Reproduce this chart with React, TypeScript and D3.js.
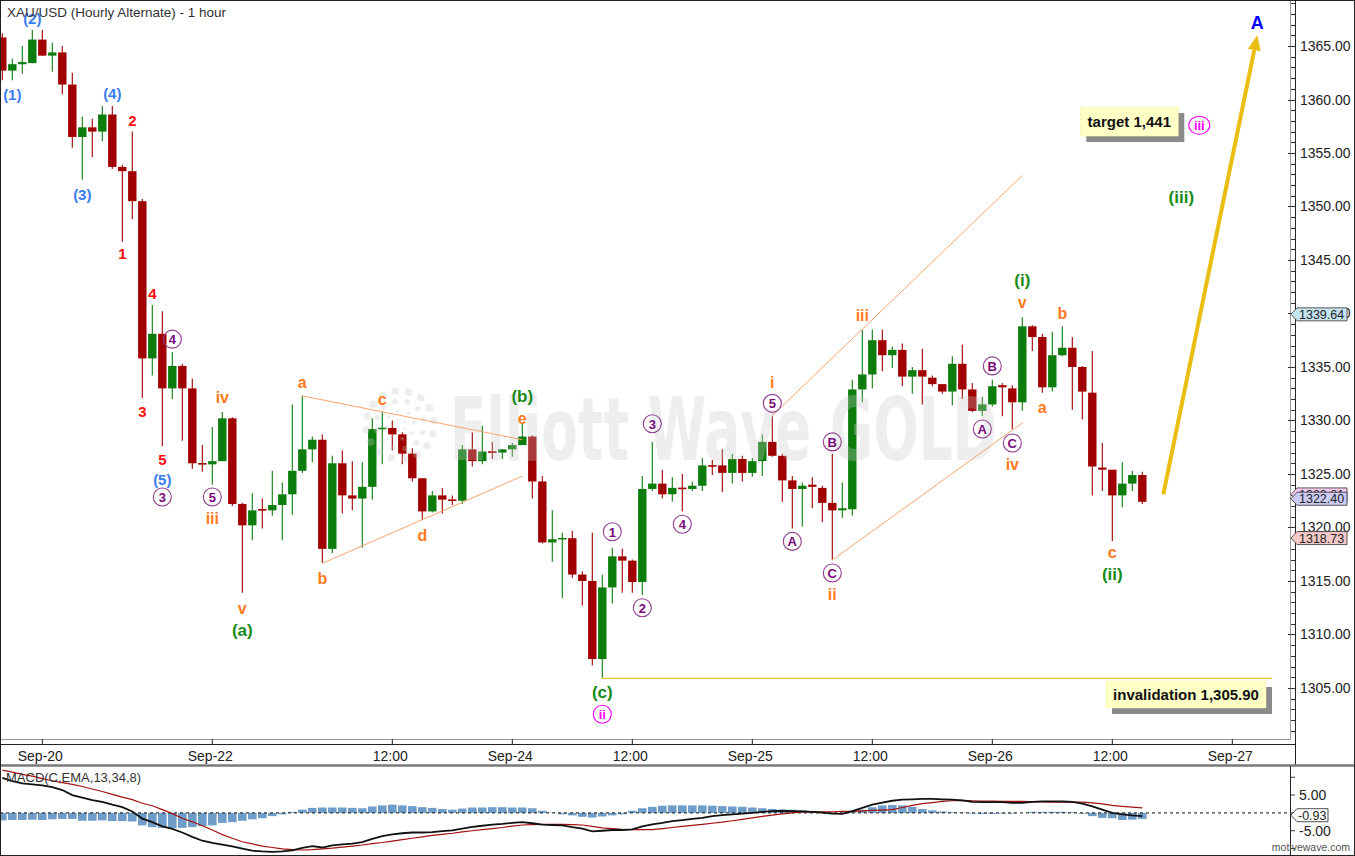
import React from 'react';
import * as d3 from 'd3';

const W = 1355;
const H = 856;

const chartTitle = 'XAU/USD (Hourly Alternate) - 1 hour';
const macdTitle = 'MACD(C,EMA,13,34,8)';

const openP = [
  1365.8, 1362.7, 1363.3, 1363.4, 1365.6, 1364.1, 1364.4, 1361.4, 1356.5, 1357.4,
  1357.0, 1358.6, 1353.7, 1353.3, 1350.5, 1335.8, 1338.1, 1333.0, 1335.1, 1333.0,
  1326.0, 1325.9, 1326.2, 1330.2, 1322.2, 1320.2, 1321.7, 1321.6, 1322.1, 1323.1,
  1325.3, 1327.3, 1328.2, 1318.0, 1326.0, 1323.0, 1322.7, 1323.8, 1329.2, 1329.3,
  1328.7, 1326.9, 1324.6, 1321.5, 1323.0, 1322.6, 1322.5, 1327.3, 1326.2, 1327.1,
  1327.0, 1327.3, 1327.7, 1328.5, 1324.3, 1318.6, 1318.9, 1319.0, 1315.6, 1315.0,
  1307.7, 1314.4, 1317.3, 1316.9, 1314.9, 1323.6, 1324.1, 1323.1, 1323.7, 1323.6,
  1323.9, 1325.8, 1325.8, 1325.1, 1326.4, 1325.1, 1326.2, 1328.0, 1326.7, 1324.4,
  1323.6, 1324.0, 1323.7, 1322.3, 1321.6, 1321.7, 1332.9, 1334.3, 1337.5, 1336.1,
  1336.6, 1334.1, 1334.7, 1334.0, 1333.4, 1332.7, 1335.3, 1332.9, 1330.9, 1331.5,
  1333.3, 1333.0, 1331.7, 1338.8, 1337.8, 1333.1, 1336.1, 1336.8, 1335.0, 1332.6,
  1325.6, 1325.4, 1323.0, 1324.1, 1324.9,
];
const highP = [
  1366.2, 1363.8, 1365.0, 1366.5, 1366.5, 1365.3, 1365.0, 1362.5, 1358.4, 1358.2,
  1359.4, 1359.4, 1353.9, 1357.0, 1350.7, 1340.8, 1340.2, 1336.4, 1335.3, 1333.9,
  1327.7, 1329.4, 1330.8, 1330.3, 1322.3, 1323.2, 1322.7, 1325.3, 1324.2, 1331.5,
  1332.3, 1328.5, 1328.7, 1326.7, 1327.2, 1326.2, 1326.1, 1330.2, 1330.8, 1330.0,
  1328.9, 1327.4, 1324.6, 1323.4, 1323.7, 1323.0, 1327.7, 1328.9, 1329.5, 1328.0,
  1327.3, 1327.9, 1329.8, 1328.6, 1324.8, 1321.6, 1319.5, 1319.7, 1315.9, 1319.5,
  1315.6, 1318.1, 1318.0, 1317.0, 1324.8, 1328.0, 1325.4, 1324.7, 1325.0, 1324.3,
  1326.5, 1326.3, 1327.3, 1326.9, 1326.7, 1326.5, 1328.7, 1330.4, 1326.9, 1324.8,
  1324.2, 1324.7, 1323.9, 1326.9, 1324.2, 1333.8, 1338.5, 1338.5, 1338.5, 1336.9,
  1337.2, 1335.0, 1336.7, 1334.2, 1333.4, 1336.0, 1337.1, 1333.5, 1332.2, 1333.8,
  1333.5, 1333.3, 1339.64, 1338.9, 1338.1, 1338.3, 1338.8, 1337.8, 1335.1, 1336.5,
  1327.9, 1325.4, 1326.1, 1325.3, 1325.2,
];
const lowP = [
  1361.8, 1361.8, 1362.4, 1363.4, 1364.1, 1362.6, 1360.5, 1355.5, 1352.5, 1354.6,
  1356.1, 1353.5, 1346.7, 1348.8, 1332.1, 1334.2, 1327.6, 1332.0, 1328.1, 1325.5,
  1325.2, 1324.0, 1326.2, 1322.0, 1313.9, 1318.8, 1319.9, 1321.1, 1318.8, 1321.2,
  1325.1, 1326.1, 1316.7, 1317.6, 1321.3, 1321.6, 1318.1, 1322.6, 1325.9, 1327.2,
  1325.9, 1324.3, 1320.7, 1321.4, 1321.3, 1322.1, 1322.2, 1325.7, 1325.9, 1326.4,
  1326.4, 1326.6, 1327.7, 1322.7, 1318.5, 1316.8, 1313.4, 1315.3, 1312.7, 1307.1,
  1305.9, 1312.9, 1313.9, 1313.9, 1313.7, 1323.4, 1322.7, 1322.4, 1321.5, 1323.4,
  1323.4, 1324.9, 1323.3, 1324.1, 1324.3, 1324.75, 1324.8, 1326.6, 1322.4, 1319.9,
  1320.1, 1321.8, 1320.5, 1317.0, 1320.9, 1321.1, 1331.7, 1333.0, 1334.6, 1334.9,
  1333.2, 1332.5, 1331.5, 1333.2, 1332.5, 1331.4, 1332.0, 1330.8, 1330.4, 1331.3,
  1330.4, 1329.2, 1330.9, 1336.5, 1332.6, 1332.7, 1336.0, 1331.0, 1330.1, 1323.0,
  1323.4, 1318.73, 1321.9, 1323.4, 1322.2,
];
const closeP = [
  1362.7, 1363.3, 1363.5, 1365.6, 1364.1, 1364.4, 1361.4, 1356.5, 1357.4, 1357.0,
  1358.6, 1353.7, 1353.3, 1350.5, 1335.8, 1338.1, 1333.0, 1335.1, 1333.0, 1326.0,
  1325.9, 1326.2, 1330.2, 1322.2, 1320.2, 1321.6, 1321.6, 1322.1, 1323.1, 1325.3,
  1327.3, 1328.2, 1318.0, 1326.0, 1323.0, 1322.7, 1323.8, 1329.2, 1329.3, 1328.7,
  1326.9, 1324.6, 1321.5, 1323.0, 1322.6, 1322.5, 1327.3, 1326.2, 1327.1, 1327.0,
  1327.3, 1327.7, 1328.5, 1324.3, 1318.6, 1318.9, 1319.0, 1315.6, 1315.0, 1307.7,
  1314.4, 1317.3, 1316.9, 1314.9, 1323.6, 1324.1, 1323.1, 1323.7, 1323.6, 1323.9,
  1325.8, 1325.7, 1325.1, 1326.4, 1325.1, 1326.2, 1328.0, 1326.7, 1324.4, 1323.6,
  1323.9, 1323.8, 1322.3, 1321.6, 1321.8, 1332.9, 1334.3, 1337.5, 1336.1, 1336.6,
  1334.1, 1334.7, 1334.1, 1333.4, 1332.7, 1335.3, 1332.9, 1330.9, 1331.5, 1333.2,
  1333.1, 1331.7, 1338.8, 1337.8, 1333.1, 1336.1, 1336.8, 1335.0, 1332.7, 1325.7,
  1325.4, 1323.0, 1324.1, 1324.9, 1322.4,
];

const macdLine = [
  9.8, 8.9, 8.3, 8.0, 7.7, 7.2, 6.4, 5.0, 4.3, 3.6,
  3.1, 2.3, 1.6, 0.4, -1.6, -2.6, -3.8, -4.5, -5.5, -6.7,
  -7.8, -8.4, -8.9, -9.4, -10.0, -10.6, -10.8, -10.9, -10.8, -10.5,
  -9.8, -9.3, -9.7, -9.1, -8.8, -8.6, -8.2, -7.3, -6.5, -6.0,
  -5.7, -5.5, -5.5, -5.4, -5.1, -4.9, -4.4, -3.9, -3.6, -3.3,
  -3.1, -2.8, -2.6, -2.9, -3.3, -3.4, -3.5, -4.0, -4.4, -5.2,
  -5.0, -4.8, -4.8, -4.6, -3.8, -3.2, -2.8, -2.3, -2.0, -1.7,
  -1.4, -0.9, -0.6, -0.4, -0.2, 0.0, 0.3, 0.5, 0.6, 0.5,
  0.4, 0.3, 0.1, -0.2, -0.3, 0.5, 1.4, 2.3, 2.9, 3.4,
  3.7, 3.8, 3.9, 3.9, 3.8, 3.7, 3.5, 3.1, 3.0, 3.0,
  3.0, 2.8, 2.8, 3.1, 3.2, 3.2, 3.2, 3.1, 2.6, 1.8,
  0.9, 0.0, -0.4, -0.7, -0.93,
];
const signalLine = [
  12.0, 11.4, 10.8, 10.3, 9.6, 9.0, 8.5, 8.0, 7.4, 6.7,
  6.0, 5.2, 4.4, 3.7, 2.7, 2.0, 0.9, -0.2, -1.5, -2.5,
  -3.6, -4.8, -6.1, -7.1, -8.1, -8.7, -9.3, -9.7, -10.1, -10.3,
  -10.4, -10.3, -10.1, -9.9, -9.6, -9.3, -9.0, -8.6, -8.3, -7.9,
  -7.5, -7.1, -6.7, -6.3, -6.0, -5.7, -5.3, -5.0, -4.7, -4.4,
  -4.1, -3.7, -3.4, -3.3, -3.2, -3.2, -3.2, -3.3, -3.4, -3.8,
  -4.2, -4.4, -4.6, -4.7, -4.7, -4.7, -4.4, -4.1, -3.8, -3.5,
  -3.2, -2.9, -2.6, -2.2, -1.8, -1.4, -1.0, -0.6, -0.3, 0.0,
  0.3, 0.3, 0.3, 0.3, 0.4, 0.4, 0.55, 0.7, 0.8, 0.9,
  1.5, 2.1, 2.6, 2.9, 3.2, 3.4, 3.5, 3.4, 3.3, 3.3,
  3.2, 3.2, 3.2, 3.1, 3.1, 3.0, 3.0, 3.0, 3.0, 2.8,
  2.5, 2.1, 1.8, 1.6, 1.4,
];
const histogram = [
  -2.1, -2.0, -2.0, -1.9, -2.0, -1.8, -1.7, -1.7, -2.2, -2.2,
  -2.1, -2.3, -2.3, -2.4, -3.5, -4.0, -4.2, -4.3, -4.2, -4.0,
  -3.7, -3.5, -2.8, -2.6, -2.2, -1.8, -1.5, -0.9, -0.4, 0.3,
  0.9, 1.4, 1.5, 1.5, 1.5, 1.4, 1.3, 1.8, 2.1, 2.3,
  2.1, 1.9, 1.6, 1.4, 1.1, 0.9, 1.2, 1.5, 1.5, 1.6,
  1.6, 1.5, 1.5, 1.3, 0.6, 0.1, -0.4, -0.7, -1.1, -1.3,
  -1.0, -0.7, -0.4, 0.6, 1.3, 1.7, 2.0, 2.1, 2.1, 2.1,
  2.1, 2.0, 1.9, 1.8, 1.7, 1.5, 1.3, 1.1, 0.9, 0.9,
  0.7, 0.5, 0.3, -0.1, -0.3, 0.4, 0.9, 1.6, 2.1, 2.2,
  2.1, 1.7, 1.1, 0.7, 0.4, 0.2, 0.1, -0.2, -0.3, -0.3,
  -0.2, -0.2, 0.0, 0.3, 0.3, 0.3, 0.3, 0.2, -0.2, -0.9,
  -1.4, -1.5, -2.0, -1.9, -1.7,
];

const xTickBars = [4, 21, 39, 51, 63, 75, 87, 99, 111, 123];
const xTickLabels = ['Sep-20', 'Sep-22', '12:00', 'Sep-24', '12:00', 'Sep-25', '12:00', 'Sep-26', '12:00', 'Sep-27'];
const priceTicks = [1305, 1310, 1315, 1320, 1325, 1330, 1335, 1340, 1345, 1350, 1355, 1360, 1365];
const macdTicks = [-10, -5, 0, 5, 10];
const macdTickLabels = [5, -5];

const waveLabels = [
  { text: '(1)', bar: 1, price: 1360.5, style: 'blue' },
  { text: '(2)', bar: 3, price: 1367.6, style: 'blue' },
  { text: '(3)', bar: 8, price: 1351.2, style: 'blue' },
  { text: '(4)', bar: 11, price: 1360.6, style: 'blue' },
  { text: '(5)', bar: 16, price: 1324.5, style: 'blue' },
  { text: '1', bar: 12, price: 1345.65, style: 'red' },
  { text: '2', bar: 13, price: 1358.1, style: 'red' },
  { text: '3', bar: 14, price: 1330.9, style: 'red' },
  { text: '4', bar: 15, price: 1341.9, style: 'red' },
  { text: '5', bar: 16, price: 1326.4, style: 'red' },
  { text: '4', bar: 17, price: 1337.6, style: 'purple' },
  { text: '3', bar: 16, price: 1322.85, style: 'purple' },
  { text: '5', bar: 21, price: 1322.85, style: 'purple' },
  { text: 'iii', bar: 21, price: 1320.9, style: 'orange' },
  { text: 'iv', bar: 22, price: 1332.2, style: 'orange' },
  { text: 'v', bar: 24, price: 1312.5, style: 'orange' },
  { text: '(a)', bar: 24, price: 1310.4, style: 'green' },
  { text: 'a', bar: 30, price: 1333.6, style: 'orange' },
  { text: 'b', bar: 32, price: 1315.3, style: 'orange' },
  { text: 'c', bar: 38, price: 1332.0, style: 'orange' },
  { text: 'd', bar: 42, price: 1319.3, style: 'orange' },
  { text: '(b)', bar: 52, price: 1332.3, style: 'green' },
  { text: 'e', bar: 52, price: 1330.2, style: 'orange' },
  { text: '1', bar: 61, price: 1319.6, style: 'purple' },
  { text: '2', bar: 64, price: 1312.5, style: 'purple' },
  { text: '3', bar: 65, price: 1329.7, style: 'purple' },
  { text: '(c)', bar: 60, price: 1304.6, style: 'green' },
  { text: 'ii', bar: 60, price: 1302.55, style: 'magenta' },
  { text: '4', bar: 68, price: 1320.3, style: 'purple' },
  { text: 'i', bar: 77, price: 1333.6, style: 'orange' },
  { text: '5', bar: 77, price: 1331.6, style: 'purple' },
  { text: 'A', bar: 79, price: 1318.7, style: 'purple' },
  { text: 'B', bar: 83, price: 1328.0, style: 'purple' },
  { text: 'C', bar: 83, price: 1315.75, style: 'purple' },
  { text: 'ii', bar: 83, price: 1313.8, style: 'orange' },
  { text: 'iii', bar: 86, price: 1339.85, style: 'orange' },
  { text: '(i)', bar: 102, price: 1343.1, style: 'green' },
  { text: 'v', bar: 102, price: 1341.05, style: 'orange' },
  { text: 'a', bar: 104, price: 1331.25, style: 'orange' },
  { text: 'b', bar: 106, price: 1340.05, style: 'orange' },
  { text: 'A', bar: 98, price: 1329.2, style: 'purple' },
  { text: 'B', bar: 99, price: 1335.1, style: 'purple' },
  { text: 'C', bar: 101, price: 1327.9, style: 'purple' },
  { text: 'iv', bar: 101, price: 1325.9, style: 'orange' },
  { text: 'c', bar: 111, price: 1317.7, style: 'orange' },
  { text: '(ii)', bar: 111, price: 1315.65, style: 'green' },
  { text: '(iii)', bar: 117.9, price: 1350.9, style: 'green' },
  { text: 'iii', bar: 119.7, price: 1357.6, style: 'magenta' },
  { text: 'A', bar: 125.5, price: 1367.2, style: 'blueA' },
];

// trend lines: [barFrom, priceFrom, barTo, priceTo]
const triangleLines = [
  [30, 1332.3, 52, 1328.2],
  [32, 1316.65, 52, 1324.8],
];
const channelLines = [
  [77, 1330.45, 102, 1352.9],
  [83, 1316.96, 102.05, 1329.8],
];
const invalidationPrice = 1305.9;
const invalidationBars = [60, 127];
const arrowFrom = [116.1, 1323.1];
const arrowTo = [125.5, 1366.0];
const targetBox = { text: 'target 1,441', bar: 112.7, price: 1357.94 };
const invalidationBox = { text: 'invalidation 1,305.90', bar: 118.37, price: 1304.39 };

const priceMarkers = [
  { value: 1339.64, fill: '#c6e3f0' },
  { value: 1322.81, fill: '#f4c9ef' },
  { value: 1322.4, fill: '#cbcbf6' },
  { value: 1318.73, fill: '#f6c8c8' },
];
const macdMarker = -0.93;

const styles: Record<string, { fill: string; size: number; circle?: string }> = {
  blue: { fill: '#3b7cf1', size: 15 },
  red: { fill: '#ff0d0d', size: 15 },
  orange: { fill: '#ff7b1c', size: 16 },
  green: { fill: '#178a17', size: 17 },
  purple: { fill: '#7a0a7a', size: 13, circle: '#8f3c8f' },
  magenta: { fill: '#ff00ff', size: 13, circle: '#ff00ff' },
  blueA: { fill: '#0000ff', size: 18 },
};

const FONT = 'Liberation Sans, Arial, sans-serif';
const RED = '#a00000';
const GREEN = '#0c7c0c';

export default function App() {
  const xS = d3.scaleLinear().domain([0, 114]).range([2.3, 1142.3]);
  const yS = d3.scaleLinear().domain([1300.23, 1369.3]).range([739, 0]);
  const mS = d3.scaleLinear().domain([-11.8, 13.14]).range([855, 766]);

  const bars = d3.range(openP.length);
  const macdPath = d3.line<number>().x((_, i) => xS(i)).y((v) => mS(v))(macdLine) || '';
  const signalPath = d3.line<number>().x((_, i) => xS(i)).y((v) => mS(v))(signalLine) || '';

  const minorTicks = d3.range(1301, 1370, 1);

  // arrow geometry
  const ax0 = xS(arrowFrom[0]);
  const ay0 = yS(arrowFrom[1]);
  const ax1 = xS(arrowTo[0]);
  const ay1 = yS(arrowTo[1]);
  const ang = Math.atan2(ay1 - ay0, ax1 - ax0);
  const headL = 15;
  const headW = 6.5;
  const bx = ax1 - headL * Math.cos(ang);
  const by = ay1 - headL * Math.sin(ang);
  const px = -Math.sin(ang);
  const py = Math.cos(ang);
  const headPts = `${ax1},${ay1} ${bx + px * headW},${by + py * headW} ${bx - px * headW},${by - py * headW}`;

  // watermark logo dots (decorative)
  const logoDots: { x: number; y: number; r: number }[] = [];
  const lcx = 400;
  const lcy = 425;
  [
    [34, 16, 3.8],
    [24, 12, 2.8],
    [14, 8, 2],
    [6, 5, 1.5],
  ].forEach(([rad, n, r]) => {
    for (let i = 0; i < n; i++) {
      const a = (i / n) * Math.PI * 2 + rad * 0.1;
      logoDots.push({ x: lcx + rad * Math.cos(a), y: lcy + rad * Math.sin(a), r });
    }
  });

  const markerShape = (yc: number, x0: number, x1: number, h: number) =>
    `${x0},${yc} ${x0 + 6},${yc - h / 2} ${x1},${yc - h / 2} ${x1},${yc + h / 2} ${x0 + 6},${yc + h / 2}`;

  const box = (b: { text: string; bar: number; price: number }, w: number, h: number, fs: number) => {
    const cx = xS(b.bar);
    const cy = yS(b.price);
    return (
      <g>
        <rect x={cx - w / 2 + 6} y={cy - h / 2 + 6} width={w} height={h} fill="#8a8a8a" />
        <rect x={cx - w / 2} y={cy - h / 2} width={w} height={h} fill="#ffffc6" stroke="#f0f0b0" strokeWidth={0.5} />
        <text x={cx} y={cy} textAnchor="middle" dominantBaseline="central" fontSize={fs} fontWeight="bold" fill="#111">
          {b.text}
        </text>
      </g>
    );
  };

  return (
    <svg
      width={W}
      height={H}
      viewBox={`0 0 ${W} ${H}`}
      style={{ position: 'absolute', left: 0, top: 0, background: '#fff' }}
      fontFamily={FONT}
    >
      <defs>
        <clipPath id="plotClip">
          <rect x={0} y={0} width={1290.5} height={739} />
        </clipPath>
        <clipPath id="macdClip">
          <rect x={0} y={766} width={1290.5} height={90} />
        </clipPath>
      </defs>
      <rect x={0} y={0} width={W} height={H} fill="#fff" />

      {/* price panel */}
      <g clipPath="url(#plotClip)">
        {bars.map((i) => {
          const o = openP[i];
          const c = closeP[i];
          const up = c >= o;
          const col = up ? GREEN : RED;
          const x = xS(i);
          const yTop = yS(Math.max(o, c));
          const yBot = yS(Math.min(o, c));
          const bh = Math.max(1.6, yBot - yTop);
          return (
            <g key={i}>
              <line x1={x} x2={x} y1={yS(highP[i])} y2={yS(lowP[i])} stroke={col} strokeWidth={1.1} />
              <rect x={x - 4.2} y={bh === 1.6 ? (yTop + yBot) / 2 - 0.8 : yTop} width={8.4} height={bh} fill={col} />
            </g>
          );
        })}

        {/* watermark */}
        {logoDots.map((d, i) => (
          <circle key={'ld' + i} cx={d.x} cy={d.y} r={d.r} fill="#c8c8c8" opacity={0.3} />
        ))}
        <text
          x={450}
          y={460}
          fontSize={88}
          fontWeight="bold"
          fontFamily="Liberation Sans Narrow, DejaVu Sans Condensed, Arial Narrow, sans-serif"
          textLength={547}
          lengthAdjust="spacingAndGlyphs"
          fill="#c8c8c8"
          opacity={0.3}
        >
          Elliott Wave GOLD
        </text>

        {/* trend lines */}
        {[...triangleLines, ...channelLines].map((l, i) => (
          <line key={'tl' + i} x1={xS(l[0])} y1={yS(l[1])} x2={xS(l[2])} y2={yS(l[3])} stroke="#f8a46c" strokeWidth={1} />
        ))}
        <line
          x1={xS(invalidationBars[0])}
          x2={xS(invalidationBars[1])}
          y1={yS(invalidationPrice)}
          y2={yS(invalidationPrice)}
          stroke="#efc12a"
          strokeWidth={1.2}
        />

        {/* arrow */}
        <line x1={ax0} y1={ay0} x2={bx} y2={by} stroke="#e9be10" strokeWidth={4} />
        <polygon points={headPts} fill="#e9be10" />

        {/* wave labels */}
        {waveLabels.map((l, i) => {
          const s = styles[l.style];
          const x = xS(l.bar);
          const y = yS(l.price);
          return (
            <g key={'wl' + i}>
              {s.circle &&
                (l.text.length > 2 ? (
                  <ellipse cx={x} cy={y} rx={10.5} ry={9} fill="none" stroke={s.circle} strokeWidth={1.1} />
                ) : (
                  <circle cx={x} cy={y} r={9} fill="none" stroke={s.circle} strokeWidth={1.1} />
                ))}
              <text
                x={x}
                y={y + 0.5}
                textAnchor="middle"
                dominantBaseline="central"
                fontSize={s.size}
                fontWeight="bold"
                fill={s.fill}
              >
                {l.text}
              </text>
            </g>
          );
        })}

        {box(targetBox, 98, 29, 15)}
        {box(invalidationBox, 160, 27, 15)}
      </g>

      {/* title */}
      <text x={7} y={17} fontSize={13.5} fill="#333">
        {chartTitle}
      </text>

      {/* plot frame */}
      <line x1={0} x2={1290.5} y1={739.5} y2={739.5} stroke="#9a9a9a" strokeWidth={1} />
      <line x1={1290.5} x2={1290.5} y1={0} y2={739.5} stroke="#9a9a9a" strokeWidth={1} />

      {/* y axis */}
      <line x1={1295.5} x2={1295.5} y1={0} y2={765} stroke="#222" strokeWidth={1} />
      {minorTicks.map((p) => (
        <line
          key={'mt' + p}
          x1={p % 5 === 0 ? 1288 : 1291}
          x2={1295.5}
          y1={Math.round(yS(p)) + 0.5}
          y2={Math.round(yS(p)) + 0.5}
          stroke="#333"
          strokeWidth={1}
        />
      ))}
      {priceTicks.map((p) => (
        <text key={'pt' + p} x={1300} y={yS(p)} dominantBaseline="central" fontSize={14} fill="#222">
          {p.toFixed(2)}
        </text>
      ))}
      {priceMarkers.map((m, i) => {
        const yc = yS(m.value) - 3;
        return (
          <g key={'pm' + i}>
            <polygon points={markerShape(yc, 1291, 1347, 13)} fill={m.fill} stroke="#333" strokeWidth={0.8} />
            <text x={1299} y={yc + 0.5} dominantBaseline="central" fontSize={12.5} fill="#222">
              {m.value.toFixed(2)}
            </text>
          </g>
        );
      })}

      {/* x axis */}
      <line x1={0} x2={1296} y1={744.5} y2={744.5} stroke="#222" strokeWidth={1} />
      {xTickBars.map((b, i) => (
        <g key={'xt' + i}>
          <line x1={xS(b)} x2={xS(b)} y1={739} y2={744.5} stroke="#222" strokeWidth={1} />
          <text x={xS(b) - 2} y={760.5} textAnchor="middle" fontSize={14} fill="#222">
            {xTickLabels[i]}
          </text>
        </g>
      ))}

      {/* separator */}
      <line x1={0} x2={W} y1={765.5} y2={765.5} stroke="#7a7a7a" strokeWidth={2.5} />

      {/* MACD panel */}
      <g clipPath="url(#macdClip)">
        {bars.map((i) => {
          const v = histogram[i];
          const y0 = mS(0);
          const y1 = mS(v);
          return (
            <rect
              key={'h' + i}
              x={xS(i) - 4.3}
              y={Math.min(y0, y1)}
              width={8.6}
              height={Math.abs(y1 - y0)}
              fill="#6f9dca"
            />
          );
        })}
        <line x1={0} x2={1290.5} y1={mS(0)} y2={mS(0)} stroke="#111" strokeWidth={1} strokeDasharray="3,3" />
        <path d={signalPath} fill="none" stroke="#a31010" strokeWidth={1.2} />
        <path d={macdPath} fill="none" stroke="#111" strokeWidth={1.8} />
      </g>
      <text x={6} y={782} fontSize={13} fill="#333">
        {macdTitle}
      </text>
      <line x1={1290.5} x2={1290.5} y1={766} y2={856} stroke="#222" strokeWidth={1} />
      {macdTicks.map((t) => (
        <line key={'mk' + t} x1={1290.5} x2={1295} y1={mS(t)} y2={mS(t)} stroke="#333" strokeWidth={1} />
      ))}
      {macdTickLabels.map((t) => (
        <text key={'ml' + t} x={1299} y={mS(t)} dominantBaseline="central" fontSize={14} fill="#222">
          {t.toFixed(2)}
        </text>
      ))}
      <polygon points={markerShape(mS(macdMarker) - 1, 1291, 1328, 13)} fill="#fff" stroke="#222" strokeWidth={0.8} />
      <text x={1298} y={mS(macdMarker) - 0.5} dominantBaseline="central" fontSize={12.5} fill="#222">
        {macdMarker.toFixed(2)}
      </text>
      <text x={1350} y={851} textAnchor="end" fontSize={10.5} fill="#555">
        motivewave.com
      </text>

      {/* outer border */}
      <rect x={0.5} y={0.5} width={W - 1} height={H - 1} fill="none" stroke="#222" strokeWidth={1} />
    </svg>
  );
}
